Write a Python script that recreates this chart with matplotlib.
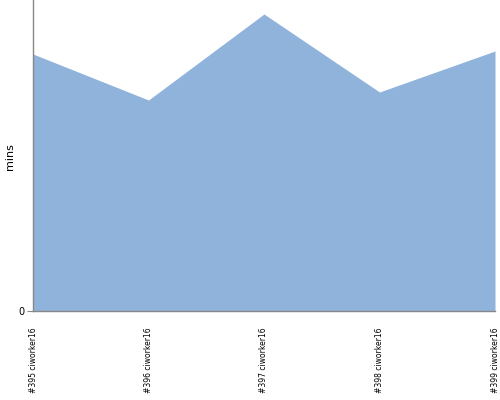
import matplotlib
matplotlib.use("Agg")
import matplotlib.pyplot as plt

builds = ["#395 ciworker16", "#396 ciworker16", "#397 ciworker16", "#398 ciworker16", "#399 ciworker16"]
mins = [25.7, 21.1, 29.7, 21.9, 26.0]
ymax = 31.1

fig = plt.figure(figsize=(5, 4), dpi=100)
ax = fig.add_axes([33/500, 1 - 311/400, 462/500, 311/400])
x = list(range(len(builds)))
ax.fill_between(x, mins, 0, color="#8fb3db", linewidth=0)
ax.set_xlim(0, len(builds) - 1)
ax.set_ylim(0, ymax)
ax.set_yticks([0])
ax.set_yticklabels(["0"], fontsize=7)
ax.set_xticks(x)
ax.set_xticklabels(builds, rotation=90, fontsize=5.5, va="top")
ax.tick_params(axis="x", length=0, pad=12)
ax.tick_params(axis="y", length=4, color="#888888", pad=2)
for s in ["top", "right"]:
    ax.spines[s].set_visible(False)
for s in ["left", "bottom"]:
    ax.spines[s].set_color("#888888")
    ax.spines[s].set_linewidth(1)
ax.set_ylabel("mins", fontsize=8, va="center")
ax.yaxis.set_label_coords(-0.049, 0.495)
fig.savefig("out.png", dpi=100)
